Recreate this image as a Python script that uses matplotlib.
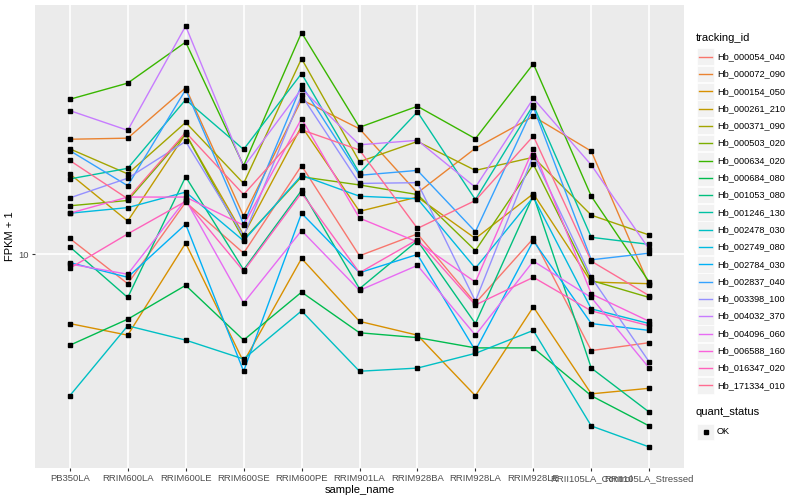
import numpy as np
import matplotlib
matplotlib.use("Agg")
import matplotlib.pyplot as plt
from matplotlib.patches import Rectangle
from matplotlib.lines import Line2D

plt.rcParams['font.family'] = ['Liberation Sans', 'DejaVu Sans']

samples = ["PB350LA", "RRIM600LA", "RRIM600LE", "RRIM600SE", "RRIM600PE",
           "RRIM901LA", "RRIM928BA", "RRIM928LA", "RRIM928LE",
           "RRII105LA_Control", "RRII105LA_Stressed"]

tracking_ids = ["Hb_000054_040", "Hb_000072_090", "Hb_000154_050", "Hb_000261_210",
                "Hb_000371_090", "Hb_000503_020", "Hb_000634_020", "Hb_000684_080",
                "Hb_001053_080", "Hb_001246_130", "Hb_002478_030", "Hb_002749_080",
                "Hb_002784_030", "Hb_002837_040", "Hb_003398_100", "Hb_004032_370",
                "Hb_004096_060", "Hb_006588_160", "Hb_016347_020", "Hb_171334_010"]

# FPKM + 1
hb_000054_040 = [11.3, 8.0, 14.9, 10.1, 19.7, 9.9, 11.7, 6.9, 11.3, 4.8, 5.1]
hb_000072_090 = [24.1, 24.3, 35.7, 13.4, 32.6, 26.1, 16.0, 22.5, 28.7, 22.0, 7.9]
hb_000154_050 = [5.9, 5.4, 10.9, 4.4, 9.7, 6.0, 5.4, 3.4, 6.7, 3.45, 3.6]
hb_000261_210 = [18.5, 12.9, 25.1, 11.6, 26.6, 13.9, 15.5, 11.3, 15.9, 8.1, 8.0]
hb_000371_090 = [22.4, 18.5, 27.4, 17.2, 44.6, 20.3, 23.7, 19.0, 21.0, 13.5, 11.6]
hb_000503_020 = [14.5, 15.1, 25.1, 11.2, 18.1, 17.0, 15.8, 10.3, 19.9, 8.2, 7.2]
hb_000634_020 = [32.7, 37.0, 50.6, 19.7, 54.4, 26.4, 31.0, 24.2, 42.9, 15.6, 8.1]
hb_000684_080 = [5.0, 6.1, 7.9, 5.2, 7.5, 5.5, 5.3, 4.9, 4.9, 3.4, 2.7]
hb_001053_080 = [10.6, 7.2, 18.1, 8.9, 16.3, 7.7, 11.1, 5.9, 15.7, 4.2, 3.0]
hb_001246_130 = [17.8, 19.3, 32.6, 22.3, 39.8, 18.6, 29.7, 15.2, 31.3, 11.4, 10.8]
hb_002478_030 = [3.4, 5.8, 5.2, 4.5, 6.5, 4.1, 4.2, 4.7, 5.6, 2.7, 2.3]
hb_002749_080 = [13.7, 14.3, 16.1, 11.1, 18.3, 15.6, 15.3, 9.0, 15.5, 6.6, 5.9]
hb_002784_030 = [9.4, 8.4, 12.6, 4.1, 13.7, 8.7, 10.0, 4.8, 11.1, 5.9, 5.6]
hb_002837_040 = [22.1, 16.9, 35.2, 12.6, 36.4, 18.3, 19.0, 11.9, 30.8, 9.6, 10.1]
hb_003398_100 = [15.4, 17.9, 23.7, 11.5, 33.7, 17.2, 17.3, 7.0, 21.3, 8.4, 4.4]
hb_004032_370 = [30.0, 25.8, 57.2, 19.5, 35.4, 23.1, 23.9, 16.7, 32.9, 19.8, 10.4]
hb_004096_060 = [9.3, 8.6, 15.2, 6.9, 12.0, 7.6, 9.2, 5.4, 9.5, 7.2, 4.2]
hb_006588_160 = [13.7, 15.5, 15.5, 12.5, 28.2, 13.2, 11.0, 8.1, 22.4, 7.4, 6.0]
hb_016347_020 = [9.0, 11.7, 15.0, 8.8, 16.0, 8.7, 11.2, 6.8, 8.4, 6.5, 5.8]
hb_171334_010 = [20.5, 15.3, 25.4, 15.8, 25.9, 22.2, 12.2, 15.1, 24.7, 9.5, 7.3]

series = [hb_000054_040, hb_000072_090, hb_000154_050, hb_000261_210, hb_000371_090,
          hb_000503_020, hb_000634_020, hb_000684_080, hb_001053_080, hb_001246_130,
          hb_002478_030, hb_002749_080, hb_002784_030, hb_002837_040, hb_003398_100,
          hb_004032_370, hb_004096_060, hb_006588_160, hb_016347_020, hb_171334_010]

# ggplot hue palette, 20 levels
palette = ["#F8766D", "#EA8331", "#D89000", "#C09B00", "#A3A500", "#7CAE00", "#39B600",
           "#00BB4E", "#00BF7D", "#00C1A3", "#00BFC4", "#00BAE0", "#00B0F6", "#35A2FF",
           "#9590FF", "#C77CFF", "#E76BF3", "#FA62DB", "#FF62BC", "#FF6C91"]

W, H = 800, 500
fig = plt.figure(figsize=(8, 5), dpi=100)
fig.patch.set_facecolor('white')
ax = fig.add_axes([35 / W, 1 - 468 / H, (684 - 35) / W, (468 - 5) / H])
ax.set_facecolor('#EBEBEB')

x = np.arange(len(samples))
for vals, col in zip(series, palette):
    ax.plot(x, vals, color=col, lw=1.0, zorder=3)
for vals in series:
    ax.plot(x, vals, ls='none', marker='s', ms=2.6, color='black', zorder=4)

ax.set_yscale('log')
allv = np.concatenate(series)
lo, hi = np.log10(allv.min()), np.log10(allv.max())
pad = (hi - lo) * 0.05
ax.set_ylim(10 ** (lo - pad), 10 ** (hi + pad))
ax.set_xlim(-0.6, len(samples) - 0.4)

ax.set_yticks([10])
ax.set_yticklabels(['10'])
ax.yaxis.set_minor_locator(matplotlib.ticker.NullLocator())
ax.set_xticks(x)
ax.set_xticklabels(samples)
ax.tick_params(axis='both', length=2.5, width=0.8, color='#333333',
               labelcolor='#4D4D4D', labelsize=6.8, pad=2)

ax.grid(True, which='major', color='white', lw=1.2, zorder=0)
ax.set_axisbelow(True)
for s in ax.spines.values():
    s.set_visible(False)

ax.set_xlabel('sample_name', fontsize=8, labelpad=1)
ax.set_ylabel('FPKM + 1', fontsize=8, labelpad=2)

# legend drawn by hand, ggplot style
def fx(px):
    return px / W

def fy(py):
    return 1 - py / H

fig.text(fx(696), fy(38), 'tracking_id', fontsize=8, va='center', ha='left')
for i, (name, col) in enumerate(zip(tracking_ids, palette)):
    yc = 56.7 + 17.3 * i
    fig.patches.append(Rectangle((fx(697), fy(yc + 8.3)), 17 / W, 16.6 / H,
                                 transform=fig.transFigure, facecolor='#F2F2F2',
                                 edgecolor='white', lw=0.5))
    fig.lines.append(Line2D([fx(699), fx(712)], [fy(yc), fy(yc)], color=col, lw=1.0,
                            transform=fig.transFigure))
    fig.text(fx(717), fy(yc), name, fontsize=6.6, va='center', ha='left')

fig.text(fx(696), fy(412), 'quant_status', fontsize=8, va='center', ha='left')
fig.patches.append(Rectangle((fx(697), fy(432 + 8.3)), 17 / W, 16.6 / H,
                             transform=fig.transFigure, facecolor='#F2F2F2',
                             edgecolor='white', lw=0.5))
fig.lines.append(Line2D([fx(705.5)], [fy(432)], ls='none', marker='s', ms=2.6,
                        color='black', transform=fig.transFigure))
fig.text(fx(717), fy(432), 'OK', fontsize=6.6, va='center', ha='left')

fig.savefig('out.png', dpi=100)
